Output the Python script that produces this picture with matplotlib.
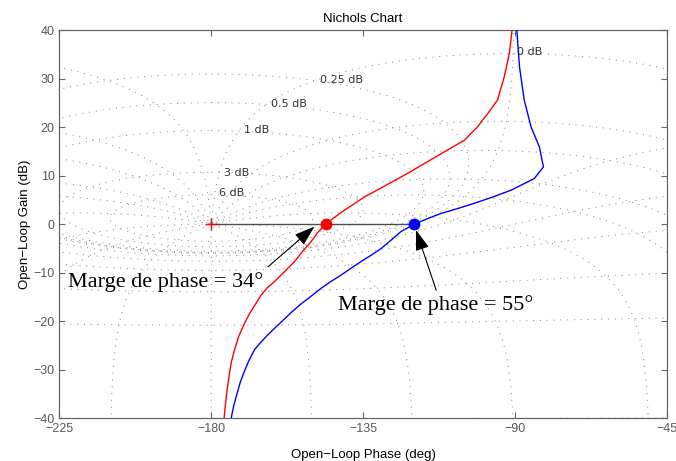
import numpy as np
import matplotlib
matplotlib.use("Agg")
import matplotlib.pyplot as plt

# open-loop curves (phase deg, gain dB)
red_phase = [-90.6, -90.8, -91.6, -93.1, -95.1, -98.0, -101.0, -104.9, -109.9, -115.8,
             -121.7, -128.2, -134.6, -141.5, -146.1, -148.4, -150.4, -152.9, -155.3,
             -158.3, -161.2, -163.4, -165.2, -167.0, -168.7, -170.1, -171.8, -173.1,
             -174.0, -174.6, -175.5, -176.2, -176.5]
red_gain = [42, 40, 35.2, 30.4, 25.6, 22.8, 20.1, 17.3, 15.3, 12.9,
            10.5, 8.0, 5.6, 2.4, 0, -1.7, -3.6, -5.6, -7.7,
            -9.8, -11.8, -13.1, -14.6, -16.6, -18.5, -20.4, -23.0, -25.9,
            -28.3, -30.7, -35.2, -40, -42]

blue_phase = [-89.5, -89.4, -88.6, -87.2, -85.2, -82.7, -81.5, -84.2, -91.1, -96.5,
              -102.0, -107.0, -111.9, -116.0, -119.8, -123.7, -126.7, -129.6, -132.6,
              -135.6, -138.6, -141.5, -144.5, -147.4, -150.5, -153.5, -156.3, -159.0,
              -161.3, -163.5, -165.4, -167.2, -168.9, -170.4, -171.5, -172.3, -173.3,
              -174.1, -174.4]
blue_gain = [42, 40, 32.4, 25.6, 20.1, 15.9, 11.8, 9.4, 7.0, 5.6,
             4.3, 3.2, 2.2, 1.1, 0, -1.5, -3.3, -5.0, -6.4,
             -7.7, -9.1, -10.5, -11.8, -13.2, -14.9, -16.5, -18.2, -20.0,
             -21.5, -23.0, -24.4, -25.9, -28.2, -30.7, -32.8, -34.8, -37.3,
             -40, -42]

# margins
red_cross = -146.1
blue_cross = -119.8
margin_labels = ["Marge de phase = 34\u00b0", "Marge de phase = 55\u00b0"]

# nichols grid: closed-loop gains (dB) and phases (deg)
grid_gains = [6, 3, 1, 0.5, 0.25, 0, -1, -3, -6, -12, -20, -40]
grid_phases = [-1, -5, -10, -20, -30, -50, -90, -120, -150, -180,
               -210, -240, -270, -310, -330, -340, -350, -355, -359]
gain_labels = ["6 dB", "3 dB", "1 dB", "0.5 dB", "0.25 dB", "0 dB"]
label_phase = [-177.6, -176.3, -170.4, -162.4, -147.9, -89.2]
label_gain = [6.4, 10.6, 19.3, 24.8, 29.7, 35.4]

fig = plt.figure(figsize=(6.76, 4.61), dpi=100)
ax = fig.add_axes([0.088, 0.0926, 0.898, 0.8423])

gcol = '0.5'
gls = (0, (1, 6))
glw = 0.7

for m in grid_gains:
    r = 10 ** (m / 20.0)
    if m == 0:
        phi = np.linspace(-1e-4, -2 * np.pi + 1e-4, 8000)
    else:
        phi = np.linspace(0, -2 * np.pi, 8000)
    T = r * np.exp(1j * phi)
    L = T / (1 - T)
    ph = np.degrees(np.unwrap(np.angle(L)))
    g = 20 * np.log10(np.abs(L))
    for k in (-2, -1, 0, 1):
        ax.plot(ph + 360 * k, g, color=gcol, ls=gls, lw=glw, zorder=1)

rr = np.logspace(-3, 3, 30000)
for p in grid_phases:
    T = rr * np.exp(1j * np.radians(p))
    L = T / (1 - T)
    ph = np.degrees(np.unwrap(np.angle(L)))
    ph = ph - 360 * np.round((ph[0] - p) / 360.0)
    g = 20 * np.log10(np.abs(L))
    for k in (-1, 0, 1):
        ax.plot(ph + 360 * k, g, color=gcol, ls=gls, lw=glw, zorder=1)

for txt, x, y in zip(gain_labels, label_phase, label_gain):
    ax.text(x, y, txt, fontsize=8, color='0.2', ha='left', va='center', zorder=3)

ax.plot(red_phase, red_gain, color='red', lw=1.0, zorder=4)
ax.plot(blue_phase, blue_gain, color='blue', lw=1.0, zorder=4)

ax.plot([-180, blue_cross], [0, 0], color='0.3', lw=1.0, zorder=3)
ax.plot([-180], [0], marker='+', color='red', ms=9, mew=1.0, zorder=5)
ax.plot([red_cross], [0], 'o', color='red', ms=7.5, zorder=5)
ax.plot([blue_cross], [0], 'o', color='blue', ms=7.5, zorder=5)

arrow = dict(arrowstyle='-|>,head_length=0.9,head_width=0.3', color='k', lw=0.8,
             mutation_scale=14, shrinkA=0, shrinkB=0)
ax.annotate('', xy=(-149.4, -0.5), xytext=(-163.2, -8.8), arrowprops=arrow, zorder=6)
ax.annotate('', xy=(-119.3, -1.2), xytext=(-113.3, -13.6), arrowprops=arrow, zorder=6)
ax.text(-222.6, -12.9, margin_labels[0], fontsize=16, family='Liberation Serif',
        va='baseline', ha='left', zorder=6)
ax.text(-142.4, -17.7, margin_labels[1], fontsize=16, family='Liberation Serif',
        va='baseline', ha='left', zorder=6)

ax.set_xlim(-225, -45)
ax.set_ylim(-40, 40)
ax.set_xticks([-225, -180, -135, -90, -45])
ax.set_yticks(range(-40, 41, 10))
ax.set_xticklabels(['\u2212225', '\u2212180', '\u2212135', '\u221290', '\u221245'])
ax.set_yticklabels(['\u221240', '\u221230', '\u221220', '\u221210', '0', '10', '20', '30', '40'])
ax.tick_params(direction='in', top=True, right=True, length=4, width=0.8,
               labelsize=9, colors='0.4', labelcolor='0.35')
for s in ax.spines.values():
    s.set_color('0.4')
    s.set_linewidth(0.9)

ax.set_title('Nichols Chart', fontsize=9.5, family='Liberation Sans', pad=6)
ax.set_xlabel('Open\u2212Loop Phase (deg)', fontsize=9.5, family='Liberation Sans', labelpad=10)
ax.set_ylabel('Open\u2212Loop Gain (dB)', fontsize=9.5, family='Liberation Sans', labelpad=2)
for t in ax.get_xticklabels() + ax.get_yticklabels():
    t.set_family('Liberation Sans')

fig.savefig('out.png', dpi=100)
